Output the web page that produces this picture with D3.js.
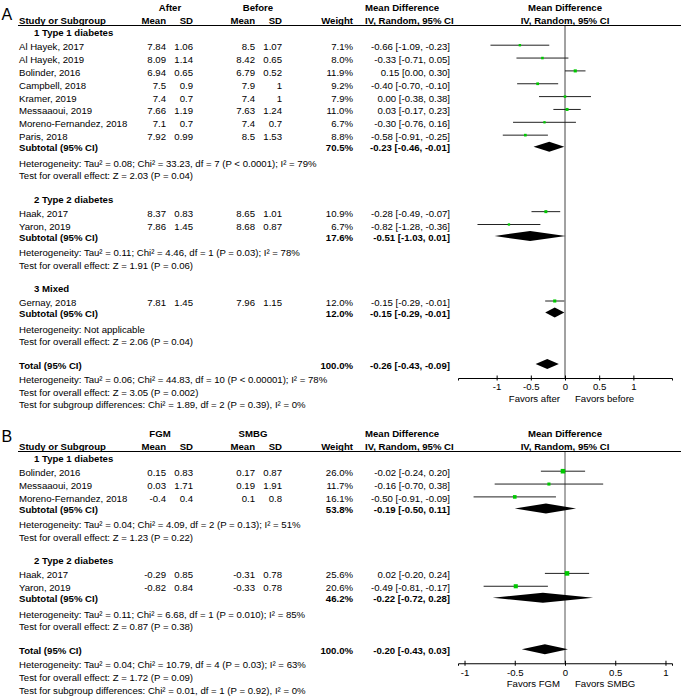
<!DOCTYPE html>
<html><head><meta charset="utf-8">
<script src="https://cdn.jsdelivr.net/npm/d3@7"></script>
<style>
body{margin:0;background:#fff}
svg{display:block}
text{font-family:"Liberation Sans",Arial,sans-serif;font-size:9.6px;fill:#000}
</style>
</head><body>
<svg id="chart" width="681" height="698"></svg>
<script>
// ---------- Panel A data ----------
const aArms = ["After", "Before"];
const aGroups = ["1 Type 1 diabetes", "2 Type 2 diabetes", "3 Mixed"];
const aStudies = ["Al Hayek, 2017","Al Hayek, 2019","Bolinder, 2016","Campbell, 2018","Kramer, 2019","Messaaoui, 2019","Moreno-Fernandez, 2018","Paris, 2018","Haak, 2017","Yaron, 2019","Gernay, 2018"];
const aStudyGroup = [0,0,0,0,0,0,0,0,1,1,2];
const aMean1 = [7.84,8.09,6.94,7.5,7.4,7.66,7.1,7.92,8.37,7.86,7.81];
const aSD1 = [1.06,1.14,0.65,0.9,0.7,1.19,0.7,0.99,0.83,1.45,1.45];
const aMean2 = [8.5,8.42,6.79,7.9,7.4,7.63,7.4,8.5,8.65,8.68,7.96];
const aSD2 = [1.07,0.65,0.52,1,1,1.24,0.7,1.53,1.01,0.87,1.15];
const aWeight = [7.1,8.0,11.9,9.2,7.9,11.0,6.7,8.8,10.9,6.7,12.0];
const aMD = [-0.66,-0.33,0.15,-0.40,0.00,0.03,-0.30,-0.58,-0.28,-0.82,-0.15];
const aLow = [-1.09,-0.71,0.00,-0.70,-0.38,-0.17,-0.76,-0.91,-0.49,-1.28,-0.29];
const aHigh = [-0.23,0.05,0.30,-0.10,0.38,0.23,0.16,-0.25,-0.07,-0.36,-0.01];
const aSubWeight = [70.5,17.6,12.0];
const aSubMD = [-0.23,-0.51,-0.15];
const aSubLow = [-0.46,-1.03,-0.29];
const aSubHigh = [-0.01,0.01,-0.01];
const aHet = ["Heterogeneity: Tau\u00b2 = 0.08; Chi\u00b2 = 33.23, df = 7 (P < 0.0001); I\u00b2 = 79%",
              "Heterogeneity: Tau\u00b2 = 0.11; Chi\u00b2 = 4.46, df = 1 (P = 0.03); I\u00b2 = 78%",
              "Heterogeneity: Not applicable"];
const aTest = ["Test for overall effect: Z = 2.03 (P = 0.04)",
               "Test for overall effect: Z = 1.91 (P = 0.06)",
               "Test for overall effect: Z = 2.06 (P = 0.04)"];
const aTotalWeight = 100.0;
const aTotalCI = [-0.26,-0.43,-0.09];
const aTotalNotes = ["Heterogeneity: Tau\u00b2 = 0.06; Chi\u00b2 = 44.83, df = 10 (P < 0.00001); I\u00b2 = 78%",
                     "Test for overall effect: Z = 3.05 (P = 0.002)",
                     "Test for subgroup differences: Chi\u00b2 = 1.89, df = 2 (P = 0.39), I\u00b2 = 0%"];
const aFavors = ["Favors after", "Favors before"];
const aTicks = [-1,-0.5,0,0.5,1];
const aDomain = [-1.565, 1.565];

// ---------- Panel B data ----------
const bArms = ["FGM", "SMBG"];
const bGroups = ["1 Type 1 diabetes", "2 Type 2 diabetes"];
const bStudies = ["Bolinder, 2016","Messaaoui, 2019","Moreno-Fernandez, 2018","Haak, 2017","Yaron, 2019"];
const bStudyGroup = [0,0,0,1,1];
const bMean1 = [0.15,0.03,-0.4,-0.29,-0.82];
const bSD1 = [0.83,1.71,0.4,0.85,0.84];
const bMean2 = [0.17,0.19,0.1,-0.31,-0.33];
const bSD2 = [0.87,1.91,0.8,0.78,0.78];
const bWeight = [26.0,11.7,16.1,25.6,20.6];
const bMD = [-0.02,-0.16,-0.50,0.02,-0.49];
const bLow = [-0.24,-0.70,-0.91,-0.20,-0.81];
const bHigh = [0.20,0.38,-0.09,0.24,-0.17];
const bSubWeight = [53.8,46.2];
const bSubMD = [-0.19,-0.22];
const bSubLow = [-0.50,-0.72];
const bSubHigh = [0.11,0.28];
const bHet = ["Heterogeneity: Tau\u00b2 = 0.04; Chi\u00b2 = 4.09, df = 2 (P = 0.13); I\u00b2 = 51%",
              "Heterogeneity: Tau\u00b2 = 0.11; Chi\u00b2 = 6.68, df = 1 (P = 0.010); I\u00b2 = 85%"];
const bTest = ["Test for overall effect: Z = 1.23 (P = 0.22)",
               "Test for overall effect: Z = 0.87 (P = 0.38)"];
const bTotalWeight = 100.0;
const bTotalCI = [-0.20,-0.43,0.03];
const bTotalNotes = ["Heterogeneity: Tau\u00b2 = 0.04; Chi\u00b2 = 10.79, df = 4 (P = 0.03); I\u00b2 = 63%",
                     "Test for overall effect: Z = 1.72 (P = 0.09)",
                     "Test for subgroup differences: Chi\u00b2 = 0.01, df = 1 (P = 0.92), I\u00b2 = 0%"];
const bFavors = ["Favors FGM", "Favors SMBG"];
const bTicks = [-1,-0.5,0,0.5,1];
const bDomain = [-1.065, 1.065];

// ---------- drawing ----------
const svg = d3.select("#chart");
const f2 = v => v.toFixed(2);
const ciText = (m, l, h) => `${f2(m)} [${f2(l)}, ${f2(h)}]`;
const wText = w => w.toFixed(1) + "%";

function drawPanel(P, oy) {
  const g = svg.append("g").attr("transform", `translate(0,${oy})`);
  const x = d3.scaleLinear().domain(P.domain).range([458, 672]);
  const T = (txt, xx, yc, anchor, bold) =>
    g.append("text").attr("x", xx).attr("y", yc + 3.5)
      .attr("text-anchor", anchor || "start")
      .attr("font-weight", bold ? "bold" : null).text(txt);

  // panel letter
  g.append("text").attr("x", 1.5).attr("y", P.letterY).style("font-size", "16px").text(P.letter);

  // header
  T(P.arms[0], P.armX[0], 7, "middle", true);
  T(P.arms[1], P.armX[1], 7, "middle", true);
  T("Mean Difference", 365, 7, "start", true);
  T("Mean Difference", 565, 7, "middle", true);
  T("Study or Subgroup", 19, 20, "start", true);
  T("Mean", 166, 20, "end", true);
  T("SD", 193, 20, "end", true);
  T("Mean", 255, 20, "end", true);
  T("SD", 282, 20, "end", true);
  T("Weight", 353, 20, "end", true);
  T("IV, Random, 95% CI", 365, 20, "start", true);
  T("IV, Random, 95% CI", 565, 20, "middle", true);
  g.append("line").attr("x1", 18).attr("x2", 681).attr("y1", 25.5).attr("y2", 25.5)
    .attr("stroke", "#000").attr("stroke-width", 1);

  const marks = g.append("g");
  const diamond = (m, l, h, yc) => {
    const yy = yc - 1;
    marks.append("polygon")
      .attr("points", [[x(l), yy], [x(m), yy - 5], [x(h), yy], [x(m), yy + 5]].map(p => p.join(",")).join(" "))
      .attr("fill", "#000");
  };

  let y = 32.7;
  P.groups.forEach((gname, gi) => {
    if (gi > 0) y += 23.3;
    T(gname, 34, y, "start", true);
    y += 14;
    const idx = d3.range(P.studies.length).filter(i => P.studyGroup[i] === gi);
    idx.forEach((i, k) => {
      if (k > 0) y += 12.85;
      T(P.studies[i], 19, y);
      T(String(P.mean1[i]), 166, y, "end");
      T(String(P.sd1[i]), 193, y, "end");
      T(String(P.mean2[i]), 255, y, "end");
      T(String(P.sd2[i]), 282, y, "end");
      T(wText(P.weight[i]), 353, y, "end");
      T(ciText(P.md[i], P.low[i], P.high[i]), 450, y, "end");
      const my = y - 1.5;
      marks.append("line").attr("x1", x(P.low[i])).attr("x2", x(P.high[i]))
        .attr("y1", my).attr("y2", my).attr("stroke", "#222").attr("stroke-width", 1);
      const s = 0.9 * Math.sqrt(P.weight[i]);
      marks.append("rect").attr("x", x(P.md[i]) - s / 2).attr("y", my - s / 2)
        .attr("width", s).attr("height", s).attr("fill", "#00c800");
    });
    y += 11;
    T("Subtotal (95% CI)", 19, y, "start", true);
    T(wText(P.subWeight[gi]), 353, y, "end", true);
    T(ciText(P.subMD[gi], P.subLow[gi], P.subHigh[gi]), 450, y, "end", true);
    diamond(P.subMD[gi], P.subLow[gi], P.subHigh[gi], y);
    y += 15.5;
    T(P.het[gi], 19, y);
    y += 12.7;
    T(P.test[gi], 19, y);
  });
  y += 23.3;
  const totalY = y;
  T("Total (95% CI)", 19, y, "start", true);
  T(wText(P.totalWeight), 353, y, "end", true);
  T(ciText(P.totalCI[0], P.totalCI[1], P.totalCI[2]), 450, y, "end", true);
  diamond(P.totalCI[0], P.totalCI[1], P.totalCI[2], y);
  y += 14.5; T(P.totalNotes[0], 19, y);
  y += 13;   T(P.totalNotes[1], 19, y);
  y += 12.3; T(P.totalNotes[2], 19, y);

  const axisY = totalY + 13;
  // zero line
  g.insert("line", ":first-child").attr("x1", x(0)).attr("x2", x(0)).attr("y1", 25.5).attr("y2", axisY)
    .attr("stroke", P.zeroColor).attr("stroke-width", 1);

  const ax = g.append("g").attr("transform", `translate(0,${axisY})`)
    .call(d3.axisBottom(x).tickValues(P.ticks).tickSizeOuter(0).tickSize(2.5).tickPadding(3)
      .tickFormat(d => String(d)));
  ax.select(".domain").attr("stroke", "#000");
  ax.selectAll(".tick line").attr("y1", -2.5).attr("y2", 2.5).attr("stroke", "#000");
  ax.selectAll(".tick text").attr("font-size", null).attr("font-family", null)
    .style("font-size", "9.6px").attr("fill", "#000");
  T(P.favors[0], x(0) - 5, axisY + 20, "end");
  T(P.favors[1], x(0) + 10, axisY + 20, "start");
}

drawPanel({
  letter: "A", letterY: 19.5, arms: aArms, armX: [170, 258], groups: aGroups, studies: aStudies,
  studyGroup: aStudyGroup, mean1: aMean1, sd1: aSD1, mean2: aMean2, sd2: aSD2, weight: aWeight,
  md: aMD, low: aLow, high: aHigh, subWeight: aSubWeight, subMD: aSubMD, subLow: aSubLow,
  subHigh: aSubHigh, het: aHet, test: aTest, totalWeight: aTotalWeight, totalCI: aTotalCI,
  totalNotes: aTotalNotes, favors: aFavors, ticks: aTicks, domain: aDomain, zeroColor: "#444"
}, 0);

drawPanel({
  letter: "B", letterY: 16, arms: bArms, armX: [160, 253], groups: bGroups, studies: bStudies,
  studyGroup: bStudyGroup, mean1: bMean1, sd1: bSD1, mean2: bMean2, sd2: bSD2, weight: bWeight,
  md: bMD, low: bLow, high: bHigh, subWeight: bSubWeight, subMD: bSubMD, subLow: bSubLow,
  subHigh: bSubHigh, het: bHet, test: bTest, totalWeight: bTotalWeight, totalCI: bTotalCI,
  totalNotes: bTotalNotes, favors: bFavors, ticks: bTicks, domain: bDomain, zeroColor: "#555"
}, 426);
</script>
</body></html>
